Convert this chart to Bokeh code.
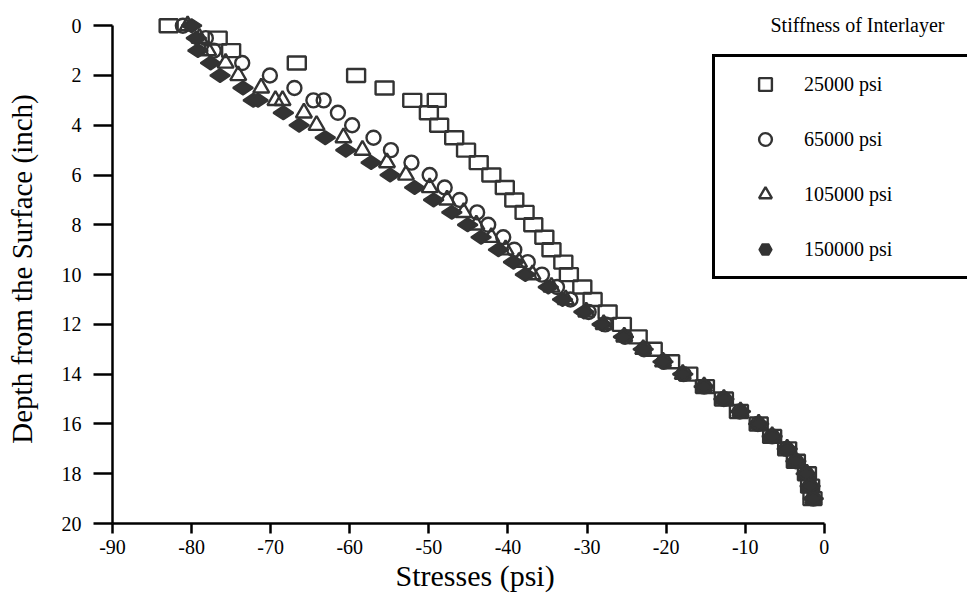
import math
import numpy as np
from bokeh.plotting import figure
from bokeh.models import (ColumnDataSource, Range1d, FixedTicker, Legend,
                          LegendItem, Label, Title)
from bokeh.embed import file_html
from bokeh.resources import INLINE

# ---------------- data ----------------
depth = [0, 0.5, 1, 1.5, 2, 2.5, 3, 3, 3.5, 4, 4.5, 5, 5.5, 6, 6.5, 7, 7.5, 8,
         8.5, 9, 9.5, 10, 10.5, 11, 11.5, 12, 12.5, 13, 13.5, 14, 14.5, 15,
         15.5, 16, 16.5, 17, 17.5, 18, 18.5, 19]

stress_25000 = [-82.9, -76.7, -75.0, -66.7, -59.2, -55.6, -52.1, -49.0, -50.0,
                -48.7, -46.8, -45.3, -43.7, -42.1, -40.4, -39.2, -37.9, -36.8,
                -35.4, -34.5, -33.0, -32.3, -30.6, -29.3, -27.4, -25.6, -23.6,
                -21.7, -19.5, -17.2, -15.1, -12.7, -10.8, -8.3, -6.6, -4.7,
                -3.6, -2.2, -1.8, -1.5]

stress_65000 = [-81.1, -78.2, -77.2, -73.6, -70.1, -67.0, -64.6, -63.3, -61.5,
                -59.7, -57.0, -54.8, -52.2, -49.9, -48.0, -46.1, -43.9, -42.5,
                -40.6, -39.2, -37.5, -35.7, -33.8, -32.1, -29.8, -27.7, -25.2,
                -22.8, -20.3, -17.8, -15.2, -12.7, -10.7, -8.4, -6.6, -4.8,
                -3.6, -2.3, -1.8, -1.4]

stress_105000 = [-80.5, -79.0, -77.9, -75.7, -74.1, -71.2, -69.4, -68.5, -65.8,
                 -64.2, -60.8, -58.4, -55.3, -52.9, -49.9, -47.7, -45.6, -44.0,
                 -42.1, -40.3, -38.6, -36.9, -34.5, -32.7, -30.1, -27.9, -25.3,
                 -22.9, -20.4, -17.9, -15.2, -12.7, -10.6, -8.3, -6.6, -4.7,
                 -3.6, -2.2, -1.8, -1.4]

stress_150000 = [-80.0, -79.4, -79.2, -77.6, -76.4, -73.5, -72.2, -71.6, -68.4,
                 -66.4, -63.1, -60.5, -57.3, -54.9, -51.8, -49.4, -47.1, -45.1,
                 -43.4, -41.2, -39.3, -37.8, -34.9, -33.1, -30.4, -28.1, -25.4,
                 -22.9, -20.4, -17.9, -15.2, -12.7, -10.6, -8.3, -6.6, -4.7,
                 -3.6, -2.3, -1.8, -1.4]

series_labels = ["25000 psi", "65000 psi", "105000 psi", "150000 psi"]
x_ticks = [-90, -80, -70, -60, -50, -40, -30, -20, -10, 0]
y_ticks = [0, 2, 4, 6, 8, 10, 12, 14, 16, 18, 20]
legend_title = "Stiffness of Interlayer"
x_title = "Stresses (psi)"
y_title = "Depth from the Surface (inch)"

# ---------------- style ----------------
FONT = "Liberation Serif"
DARK = "#333333"

# frame spans the whole right side so the legend is not clipped;
# the x axis itself is bounded to -90..0
p = figure(width=967, height=602, output_backend="svg", toolbar_location=None,
           x_range=Range1d(-90, 18.1), y_range=Range1d(20, -0.45),
           min_border_left=112, min_border_right=0,
           min_border_top=14, min_border_bottom=79)
p.outline_line_color = None
p.xgrid.visible = False
p.ygrid.visible = False
p.background_fill_color = "white"
p.border_fill_color = "white"

src = ColumnDataSource(dict(depth=depth, s1=stress_25000, s2=stress_65000,
                            s3=stress_105000, s4=stress_150000))

p.rect(x="s1", y="depth", width=18, height=13, width_units="screen",
       height_units="screen", fill_color=None, line_color=DARK,
       line_width=2.4, source=src)
p.scatter(x="s2", y="depth", marker="circle", size=14, fill_color=None,
          line_color=DARK, line_width=2.4, source=src)
p.scatter(x="s3", y="depth", marker="triangle", size=16, fill_color=None,
          line_color=DARK, line_width=2.4, source=src)
p.scatter(x="s4", y="depth", marker="diamond", size=20, angle=math.pi / 2,
          fill_color=DARK, line_color=DARK, line_width=2, source=src)

# legend proxies (no visible data points)
nan_src = ColumnDataSource(dict(x=[np.nan], y=[np.nan]))
lg1 = p.scatter(x="x", y="y", marker="square", fill_color=None,
                line_color=DARK, line_width=2.4, source=nan_src)
lg2 = p.scatter(x="x", y="y", marker="circle", fill_color=None,
                line_color=DARK, line_width=2.4, source=nan_src)
lg3 = p.scatter(x="x", y="y", marker="triangle", fill_color=None,
                line_color=DARK, line_width=2.4, source=nan_src)
lg4 = p.scatter(x="x", y="y", marker="hex", fill_color=DARK,
                line_color=DARK, line_width=1.5, source=nan_src)

legend = Legend(items=[LegendItem(label=series_labels[0], renderers=[lg1]),
                       LegendItem(label=series_labels[1], renderers=[lg2]),
                       LegendItem(label=series_labels[2], renderers=[lg3]),
                       LegendItem(label=series_labels[3], renderers=[lg4])],
                location=(600, 244), border_line_color="black",
                border_line_alpha=1.0, border_line_width=3, padding=11,
                spacing=23, glyph_width=78, glyph_height=32,
                label_standoff=0, label_width=200, label_text_font=FONT,
                label_text_font_size="20px", label_text_color="black",
                background_fill_color="white", background_fill_alpha=1.0,
                margin=0)
p.add_layout(legend)

p.add_layout(Label(x=658, y=499, x_units="screen", y_units="screen",
                   text=legend_title, text_font=FONT, text_font_size="20px",
                   text_color="black", text_baseline="middle"))

# axes
for ax in (p.xaxis[0], p.yaxis[0]):
    ax.axis_line_color = "black"
    ax.axis_line_width = 2.5
    ax.major_tick_line_color = "black"
    ax.major_tick_line_width = 2.5
    ax.major_tick_in = 0
    ax.minor_tick_line_color = None
    ax.major_label_text_font = FONT
    ax.major_label_text_font_size = "20px"
    ax.major_label_text_color = "black"
    ax.axis_label_text_font = FONT
    ax.axis_label_text_font_size = "29px"
    ax.axis_label_text_font_style = "normal"
    ax.axis_label_text_color = "black"

p.xaxis[0].ticker = FixedTicker(ticks=x_ticks)
p.xaxis[0].major_label_overrides = {t: str(t) for t in x_ticks}
p.xaxis[0].bounds = (-90, 0)
p.xaxis[0].major_tick_out = 10
p.xaxis[0].major_label_standoff = 6

# x title centred under the bounded axis (-90..0), not under the wide frame
p.add_layout(Title(text=x_title, align="left", offset=283, standoff=0,
                   text_font=FONT, text_font_size="30px",
                   text_font_style="normal", text_color="black"), "below")

p.yaxis[0].ticker = FixedTicker(ticks=y_ticks)
p.yaxis[0].bounds = (0, 20)
p.yaxis[0].major_tick_out = 19
p.yaxis[0].major_label_standoff = 12
p.yaxis[0].axis_label = y_title
p.yaxis[0].axis_label_standoff = 21

open("out.html", "w").write(file_html(p, INLINE))
